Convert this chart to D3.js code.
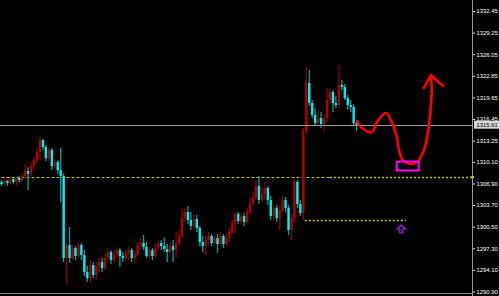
<!DOCTYPE html>
<html>
<head>
<meta charset="utf-8">
<style>
  body { margin: 0; background: #000; }
  svg { display: block; }
  .axis text { font: 5.9px "Liberation Sans", Arial, sans-serif; fill: #fff; }
  .axis line { stroke: #ddd; }
  .axis path { display: none; }
</style>
</head>
<body>
<svg id="chart" width="499" height="296"></svg>
<script src="https://d3js.org/d3.v7.min.js"></script>
<script>
// candles (open of each bar = previous close)
const firstOpen = 1307.12;
const closes = [
  1306.82, 1307.27, 1306.97, 1307.56, 1307.12, 1307.71, 1307.41, 1308.01, 1308.75, 1308.30,
  1309.49, 1310.38, 1311.56, 1313.34, 1312.30, 1310.67, 1311.86, 1309.49, 1310.08, 1308.89,
  1308.01, 1295.86, 1297.78, 1295.86, 1297.34, 1296.15, 1297.78, 1296.30, 1293.78, 1292.89,
  1294.82, 1293.34, 1294.67, 1295.27, 1294.38, 1295.86, 1296.75, 1295.56, 1296.45, 1297.04,
  1296.15, 1295.86, 1296.60, 1297.04, 1295.86, 1296.45, 1297.78, 1298.08, 1297.49, 1296.15,
  1297.04, 1296.15, 1297.34, 1298.08, 1297.64, 1297.19, 1296.75, 1297.64, 1297.04, 1297.93,
  1299.12, 1301.78, 1302.67, 1301.49, 1300.60, 1301.64, 1300.30, 1298.23, 1297.64, 1298.52,
  1299.12, 1298.08, 1298.82, 1297.93, 1299.12, 1297.93, 1298.82, 1299.71, 1301.19, 1302.38,
  1301.34, 1302.08, 1301.19, 1302.67, 1304.01, 1304.75, 1306.52, 1304.45, 1305.34, 1306.23,
  1304.45, 1302.08, 1303.27, 1301.78, 1302.97, 1304.45, 1303.27, 1300.01, 1301.78, 1307.12,
  1303.86, 1302.52, 1314.82, 1321.78, 1318.82, 1317.04, 1315.86, 1316.60, 1315.71, 1316.60,
  1319.27, 1320.45, 1318.82, 1318.52, 1321.49, 1321.19, 1319.56, 1318.52, 1318.23, 1315.86,
  1315.61
];
const highs = [
  1307.41, 1307.56, 1307.41, 1307.86, 1307.71, 1308.01, 1308.01, 1308.45, 1309.78, 1309.34,
  1310.08, 1310.82, 1312.15, 1313.78, 1313.49, 1312.60, 1312.30, 1312.15, 1310.67, 1310.38,
  1312.15, 1308.45, 1298.23, 1300.45, 1297.78, 1297.64, 1298.08, 1298.08, 1297.04, 1294.67,
  1295.56, 1295.27, 1295.27, 1295.86, 1295.86, 1296.45, 1297.34, 1297.04, 1297.04, 1297.49,
  1297.34, 1296.75, 1297.04, 1297.49, 1297.34, 1296.89, 1298.23, 1298.82, 1299.27, 1298.23,
  1297.49, 1297.34, 1297.93, 1298.52, 1298.52, 1298.97, 1297.93, 1298.23, 1298.52, 1299.71,
  1300.01, 1303.27, 1303.27, 1303.56, 1302.67, 1302.38, 1302.23, 1300.60, 1299.12, 1299.12,
  1299.71, 1299.41, 1299.27, 1299.41, 1299.71, 1299.41, 1299.41, 1300.30, 1301.49, 1302.67,
  1302.67, 1302.52, 1302.52, 1303.27, 1304.75, 1305.64, 1307.41, 1308.01, 1306.23, 1307.12,
  1306.52, 1305.04, 1303.86, 1303.71, 1303.56, 1305.04, 1304.89, 1303.71, 1302.38, 1307.71,
  1307.41, 1304.45, 1315.12, 1324.15, 1323.71, 1319.27, 1318.08, 1317.78, 1317.49, 1317.19,
  1321.04, 1321.04, 1320.75, 1319.86, 1324.45, 1322.23, 1321.64, 1320.01, 1319.27, 1318.67,
  1316.30
];
const lows = [
  1306.52, 1306.67, 1306.52, 1306.67, 1306.82, 1306.52, 1307.12, 1307.27, 1307.71, 1305.93,
  1308.01, 1308.89, 1309.93, 1310.38, 1311.86, 1310.23, 1310.08, 1308.89, 1308.89, 1308.30,
  1304.15, 1295.27, 1291.86, 1295.12, 1295.56, 1295.56, 1295.86, 1295.56, 1293.19, 1292.30,
  1292.15, 1292.89, 1292.60, 1293.78, 1293.78, 1294.08, 1295.27, 1294.97, 1295.12, 1295.86,
  1294.52, 1295.27, 1295.27, 1295.56, 1295.27, 1295.27, 1296.15, 1297.04, 1297.04, 1295.86,
  1295.86, 1295.56, 1295.86, 1297.04, 1297.04, 1296.75, 1295.27, 1296.45, 1295.27, 1295.86,
  1297.64, 1298.82, 1301.19, 1300.89, 1300.01, 1300.01, 1299.71, 1297.64, 1296.75, 1296.30,
  1297.93, 1297.64, 1297.78, 1296.60, 1297.64, 1297.34, 1297.64, 1298.23, 1299.41, 1299.56,
  1300.89, 1300.89, 1300.60, 1300.89, 1302.38, 1303.56, 1304.45, 1303.86, 1304.15, 1304.45,
  1303.71, 1301.49, 1301.49, 1301.19, 1300.01, 1302.67, 1302.67, 1299.27, 1298.52, 1301.19,
  1303.27, 1302.08, 1301.49, 1314.23, 1318.38, 1316.60, 1315.41, 1315.56, 1315.12, 1314.52,
  1316.01, 1318.67, 1317.49, 1318.08, 1318.08, 1320.75, 1319.27, 1317.78, 1317.49, 1315.41,
  1314.67
];

// price scale labels
const tickValues = [1332.45, 1329.25, 1326.05, 1322.85, 1319.65, 1316.45, 1313.25,
  1310.10, 1306.90, 1303.70, 1300.50, 1297.30, 1294.10, 1290.90];
const tickLabels = ["1332.45", "1329.25", "1326.05", "1322.85", "1319.65", "1316.45", "1313.25",
  "1310.10", "1306.90", "1303.70", "1300.50", "1297.30", "1294.10", "1290.90"];

const bidPrice = 1315.61;
const bidLabel = "1315.61";

// dotted levels: [price, fromBar, toBar]
const levelUpperLeft = [1307.85, 0, 111];
const levelUpperRight = [1307.85, 111, 159];
const levelLower = [1301.49, 102.5, 136.7];

// hand drawn projection (bar index, price)
const sketchBars = [120.1, 121.8, 125.2, 126.9, 129.9, 132.3, 133.6, 134.6, 135.6, 138.0,
  140.4, 142.4, 144.1, 145.0, 145.4, 145.1];
const sketchPrices = [1316.16, 1315.12, 1314.52, 1316.01, 1317.34, 1315.56, 1313.78, 1311.41,
  1310.38, 1309.78, 1310.08, 1311.41, 1314.38, 1317.8, 1320.5, 1322.97];
const headBars = [142.7, 145.1, 149.2];
const headPrices = [1321.04, 1322.97, 1321.34];

const boxBars = [133.6, 141.0];
const boxPrices = [1310.15, 1308.82];

const markBar = 135.1, markPrice = 1300.75;

const svg = d3.select("#chart");
const width = 499, height = 296;
const plotRight = 472;

const x = d3.scaleLinear().domain([0, 159]).range([1.5, plotRight]);
const y = d3.scaleLinear().domain([1290.90, 1332.45]).range([291.5, 11]);

svg.append("rect").attr("width", width).attr("height", height).attr("fill", "#000");

const candles = closes.map((c, i) => ({
  i: i,
  o: i === 0 ? firstOpen : closes[i - 1],
  c: c,
  h: highs[i],
  l: lows[i]
}));

// bottom border
svg.append("line")
  .attr("x1", 0).attr("x2", plotRight)
  .attr("y1", 293.5).attr("y2", 293.5)
  .attr("stroke", "#8a8a8a");

// yellow dotted levels
function level(lv, dash, w) {
  svg.append("line")
    .attr("x1", x(lv[1])).attr("x2", x(lv[2]))
    .attr("y1", Math.round(y(lv[0])) + 0.5).attr("y2", Math.round(y(lv[0])) + 0.5)
    .attr("stroke", "#c8c400")
    .attr("stroke-width", w)
    .attr("stroke-dasharray", dash);
}
level(levelUpperLeft, "3,2", 1);
level(levelUpperRight, "2,2", 1.3);
level(levelLower, "2,2", 1.3);

// candles
const g = svg.append("g");
g.selectAll(".wick")
  .data(candles)
  .enter()
  .append("line")
    .attr("x1", d => x(d.i)).attr("x2", d => x(d.i))
    .attr("y1", d => y(d.h)).attr("y2", d => y(d.l))
    .attr("stroke", d => d.c >= d.o ? "#8e0000" : "#00a0a0")
    .attr("stroke-width", 1.3);
g.selectAll(".body")
  .data(candles)
  .enter()
  .append("rect")
    .attr("x", d => x(d.i) - 1.2)
    .attr("width", 2.4)
    .attr("y", d => y(Math.max(d.o, d.c)))
    .attr("height", d => Math.max(1, Math.abs(y(d.o) - y(d.c))))
    .attr("fill", d => d.c >= d.o ? "#b00000" : "#00f0f0");

// bid line
svg.append("line")
  .attr("x1", 0).attr("x2", plotRight)
  .attr("y1", Math.round(y(bidPrice)) + 0.5).attr("y2", Math.round(y(bidPrice)) + 0.5)
  .attr("stroke", "#9a9a9a");

// hand drawn sketch
const pts = sketchBars.map((b, i) => [x(b), y(sketchPrices[i])]);
svg.append("path")
  .attr("d", d3.line().curve(d3.curveCatmullRom)(pts))
  .attr("fill", "none")
  .attr("stroke", "#ff0000")
  .attr("stroke-width", 2.6)
  .attr("stroke-linecap", "round")
  .attr("stroke-linejoin", "round");
svg.append("path")
  .attr("d", d3.line()(headBars.map((b, i) => [x(b), y(headPrices[i])])))
  .attr("fill", "none")
  .attr("stroke", "#ff0000")
  .attr("stroke-width", 2.6)
  .attr("stroke-linecap", "round")
  .attr("stroke-linejoin", "round");

// magenta box
svg.append("rect")
  .attr("x", x(boxBars[0])).attr("y", y(boxPrices[0]))
  .attr("width", x(boxBars[1]) - x(boxBars[0]))
  .attr("height", y(boxPrices[1]) - y(boxPrices[0]))
  .attr("fill", "none")
  .attr("stroke", "#ff00ff")
  .attr("stroke-width", 2);

// violet up arrow mark
const mx = x(markBar), my = y(markPrice);
svg.append("path")
  .attr("d", `M${mx},${my} l4,4 h-2.5 v4 h-3 v-4 h-2.5 z`)
  .attr("fill", "none")
  .attr("stroke", "#a020f0")
  .attr("stroke-width", 1.2);

// price axis
svg.append("line")
  .attr("x1", plotRight + 0.5).attr("x2", plotRight + 0.5)
  .attr("y1", 0).attr("y2", height)
  .attr("stroke", "#9a9a9a");

svg.append("g")
  .attr("class", "axis")
  .attr("transform", `translate(${plotRight + 1},0)`)
  .call(d3.axisRight(y)
    .tickValues(tickValues)
    .tickFormat((d, i) => tickLabels[i])
    .tickSize(2)
    .tickPadding(1.5));

// level marker on the axis
svg.append("rect")
  .attr("x", plotRight - 1).attr("y", Math.round(y(levelUpperLeft[0])) - 1)
  .attr("width", 3).attr("height", 2)
  .attr("fill", "#c8c400");

// bid label
const by = y(bidPrice);
svg.append("rect")
  .attr("x", plotRight + 2).attr("y", by - 4)
  .attr("width", width - plotRight - 2).attr("height", 8)
  .attr("fill", "#d8d8d8");
svg.append("text")
  .attr("x", plotRight + 4.5).attr("y", by + 2.2)
  .attr("font-family", "Liberation Sans, Arial, sans-serif")
  .attr("font-size", 5.9)
  .attr("fill", "#000")
  .text(bidLabel);
</script>
</body>
</html>
